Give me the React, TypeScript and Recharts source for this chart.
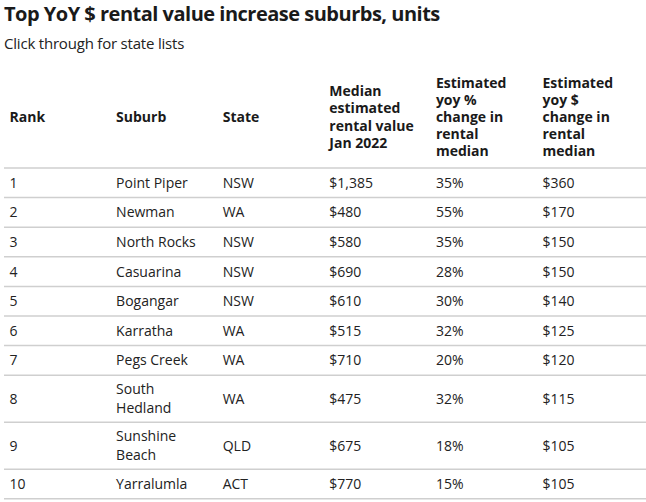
import { ScatterChart, Scatter, XAxis, YAxis, ReferenceLine } from 'recharts';

const ranks = [1, 2, 3, 4, 5, 6, 7, 8, 9, 10];
const suburbs = ['Point Piper', 'Newman', 'North Rocks', 'Casuarina', 'Bogangar', 'Karratha', 'Pegs Creek', 'South Hedland', 'Sunshine Beach', 'Yarralumla'];
const states = ['NSW', 'WA', 'NSW', 'NSW', 'NSW', 'WA', 'WA', 'WA', 'QLD', 'ACT'];
const medianRent = [1385, 480, 580, 690, 610, 515, 710, 475, 675, 770];
const yoyPct = [35, 55, 35, 28, 30, 32, 20, 32, 18, 15];
const yoyDollar = [360, 170, 150, 150, 140, 125, 120, 115, 105, 105];
const headers = [
  ['Rank'],
  ['Suburb'],
  ['State'],
  ['Median', 'estimated', 'rental value', 'Jan 2022'],
  ['Estimated', 'yoy %', 'change in', 'rental', 'median'],
  ['Estimated', 'yoy $', 'change in', 'rental', 'median'],
];

document.body.style.margin = '0';

const FONT = "'Open Sans', sans-serif";
const W = 646;
const H = 502;
const LEFT = 4;
const COL_W = 106.6;
const BODY_TOP = 168;
const HEADER_H = 106;
const HEADER_MID = 117;
const ROW_LINE = 17.4;
const ROW_PAD = 12.2;
const TEXT_LINE = 19.2;

// long names go on two lines, like the narrow table column
const wrap = (s: string) => (s.length > 12 ? s.split(' ') : [s]);

const columns: string[][] = [
  ranks.map(String),
  suburbs,
  states,
  medianRent.map((v) => `$${v.toLocaleString('en-US')}`),
  yoyPct.map((v) => `${v}%`),
  yoyDollar.map((v) => `$${v}`),
];

const rowLines = ranks.map((_, i) => Math.max(...columns.map((c) => wrap(c[i]).length)));
const rowHeights = rowLines.map((n) => ROW_PAD + ROW_LINE * n);
const rowEdges = [0];
rowHeights.forEach((h) => rowEdges.push(rowEdges[rowEdges.length - 1] + h));
const bodyH = rowEdges[rowEdges.length - 1];
const rowMids = rowHeights.map((h, i) => rowEdges[i] + h / 2);

const HeaderTick = (props: any) => {
  const { x, payload } = props;
  const lines = headers[payload.value] || [];
  const y0 = HEADER_MID - ((lines.length - 1) * 17.2) / 2 + 5;
  return (
    <g>
      {lines.map((l, k) => (
        <text key={k} x={x + 5.5} y={y0 + k * 17.2} fontFamily={FONT} fontSize={14} fontWeight={700} fill="#1a1a1a">
          {l}
        </text>
      ))}
    </g>
  );
};

const CellText = (props: any) => {
  const { cx, cy, payload } = props;
  const lines: string[] = payload.lines;
  const y0 = cy - ((lines.length - 1) * TEXT_LINE) / 2 + 5;
  return (
    <g>
      {lines.map((l, k) => (
        <text key={k} x={cx + 5.5} y={y0 + k * TEXT_LINE} fontFamily={FONT} fontSize={14} fill="#222">
          {l}
        </text>
      ))}
    </g>
  );
};

const App = () => {
  return (
    <div style={{ position: 'relative', width: W, height: H, background: '#fff', fontFamily: FONT }}>
      <div style={{ position: 'absolute', left: 4, top: 0, fontSize: 20, fontWeight: 700, letterSpacing: -0.5, lineHeight: '28px', color: '#1a1a1a', whiteSpace: 'nowrap' }}>
        Top YoY $ rental value increase suburbs, units
      </div>
      <div style={{ position: 'absolute', left: 4, top: 32, fontSize: 15, letterSpacing: -0.2, lineHeight: '22px', color: '#222', whiteSpace: 'nowrap' }}>
        Click through for state lists
      </div>
      <ScatterChart
        width={W}
        height={H}
        margin={{ top: BODY_TOP - HEADER_H, right: 0, left: LEFT, bottom: H - BODY_TOP - bodyH }}
      >
        <XAxis
          dataKey="x"
          type="number"
          orientation="top"
          height={HEADER_H}
          domain={[0, (W - LEFT) / COL_W]}
          allowDataOverflow
          ticks={[0, 1, 2, 3, 4, 5]}
          axisLine={false}
          tickLine={false}
          tickSize={0}
          tickMargin={0}
          tick={HeaderTick}
        />
        <YAxis dataKey="y" type="number" domain={[0, bodyH]} allowDataOverflow reversed hide />
        {rowEdges.map((e, i) => (
          <ReferenceLine key={i} y={e} stroke="#cfcfcf" strokeWidth={1.5} />
        ))}
        {columns.map((col, c) => (
          <Scatter
            key={c}
            data={col.map((t, i) => ({ x: c, y: rowMids[i], lines: wrap(t) }))}
            shape={CellText}
            isAnimationActive={false}
          />
        ))}
      </ScatterChart>
    </div>
  );
};

export default App;
